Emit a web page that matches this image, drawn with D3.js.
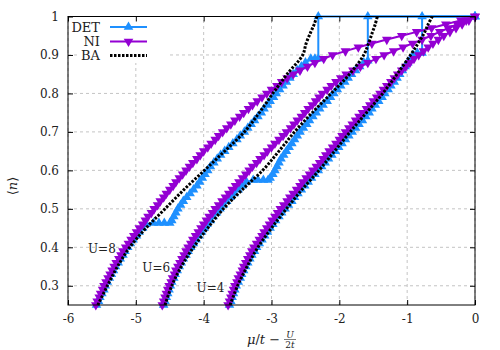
<!DOCTYPE html>
<html>
<head>
<meta charset="utf-8">
<script src="https://cdn.jsdelivr.net/npm/d3@7"></script>
<style>
  body { margin: 0; background: #fff; }
  svg { display: block; font-family: 'DejaVu Serif', serif; }
</style>
</head>
<body>
<div id="chart"></div>
<script>
// ---- data ----
const xTicks = [-6, -5, -4, -3, -2, -1, 0]
const yTicks = [0.3, 0.4, 0.5, 0.6, 0.7, 0.8, 0.9, 1]

// fillings on which NI is sampled
const nLevels = [0.25, 0.26, 0.27, 0.28, 0.29, 0.30, 0.31, 0.32, 0.33, 0.34,
  0.35, 0.36, 0.37, 0.38, 0.39, 0.40, 0.41, 0.42, 0.43, 0.44,
  0.45, 0.46, 0.47, 0.48, 0.49, 0.50, 0.51, 0.52, 0.53, 0.54,
  0.55, 0.56, 0.57, 0.58, 0.59, 0.60, 0.61, 0.62, 0.63, 0.64,
  0.65, 0.66, 0.67, 0.68, 0.69, 0.70, 0.71, 0.72, 0.73, 0.74,
  0.75, 0.76, 0.77, 0.78, 0.79, 0.80, 0.81, 0.82, 0.83, 0.84,
  0.85, 0.86, 0.87, 0.88, 0.89, 0.90, 0.91, 0.92, 0.93, 0.94,
  0.95, 0.96, 0.97, 0.98, 0.99, 1.00]

// NI: mu/t - U/2t at each filling
const niU8 = [-5.59, -5.57, -5.54, -5.52, -5.49, -5.47, -5.44, -5.41, -5.38, -5.35,
  -5.32, -5.29, -5.25, -5.22, -5.19, -5.15, -5.11, -5.07, -5.03, -4.99,
  -4.95, -4.90, -4.86, -4.82, -4.77, -4.73, -4.68, -4.64, -4.59, -4.55,
  -4.50, -4.45, -4.41, -4.36, -4.31, -4.26, -4.21, -4.16, -4.10, -4.05,
  -4.00, -3.94, -3.89, -3.83, -3.78, -3.72, -3.66, -3.60, -3.54, -3.47,
  -3.41, -3.34, -3.28, -3.21, -3.14, -3.07, -3.00, -2.92, -2.85, -2.77,
  -2.68, -2.58, -2.47, -2.36, -2.23, -2.10, -1.91, -1.72, -1.52, -1.30,
  -1.08, -0.86, -0.64, -0.43, -0.21, 0.00]
const niU6 = [-4.61, -4.59, -4.57, -4.55, -4.53, -4.51, -4.48, -4.46, -4.43, -4.41,
  -4.38, -4.35, -4.32, -4.29, -4.26, -4.23, -4.19, -4.16, -4.12, -4.08,
  -4.04, -4.00, -3.96, -3.92, -3.87, -3.83, -3.78, -3.73, -3.68, -3.63,
  -3.58, -3.53, -3.48, -3.43, -3.38, -3.33, -3.28, -3.22, -3.17, -3.11,
  -3.06, -3.00, -2.95, -2.89, -2.83, -2.78, -2.72, -2.67, -2.62, -2.56,
  -2.51, -2.46, -2.40, -2.35, -2.30, -2.25, -2.18, -2.12, -2.05, -1.98,
  -1.90, -1.80, -1.69, -1.58, -1.46, -1.34, -1.20, -1.06, -0.92, -0.78,
  -0.65, -0.52, -0.39, -0.26, -0.13, 0.00]
const niU4 = [-3.64, -3.62, -3.60, -3.58, -3.56, -3.54, -3.51, -3.49, -3.46, -3.43,
  -3.41, -3.38, -3.35, -3.32, -3.29, -3.26, -3.22, -3.18, -3.14, -3.11,
  -3.07, -3.03, -2.99, -2.95, -2.91, -2.87, -2.82, -2.77, -2.73, -2.68,
  -2.63, -2.58, -2.54, -2.49, -2.44, -2.39, -2.34, -2.29, -2.24, -2.20,
  -2.15, -2.10, -2.05, -2.00, -1.96, -1.91, -1.86, -1.81, -1.76, -1.71,
  -1.66, -1.60, -1.55, -1.50, -1.45, -1.40, -1.35, -1.30, -1.24, -1.19,
  -1.14, -1.08, -1.02, -0.96, -0.90, -0.83, -0.76, -0.69, -0.62, -0.54,
  -0.46, -0.37, -0.28, -0.19, -0.09, 0.00]

// DET: irregular points (plateaus and jumps)
const detU8N = [0.25, 0.26, 0.27, 0.28, 0.29, 0.30, 0.31, 0.32, 0.33, 0.34,
  0.35, 0.36, 0.37, 0.38, 0.39, 0.40, 0.41, 0.42, 0.43, 0.44, 0.45, 0.46,
  0.463, 0.463, 0.463, 0.463,
  0.47, 0.48, 0.49, 0.50, 0.51, 0.52, 0.53, 0.54, 0.55, 0.56,
  0.57, 0.58, 0.59, 0.60, 0.61, 0.62, 0.63, 0.64, 0.65, 0.66,
  0.67, 0.68, 0.69, 0.70, 0.71, 0.72, 0.73, 0.74, 0.75, 0.76,
  0.77, 0.78, 0.79, 0.80, 0.81, 0.82, 0.83, 0.84, 0.85, 0.86,
  0.87, 0.88, 0.89, 0.89, 0.89, 1.00, 1.00]
const detU8X = [-5.58, -5.55, -5.53, -5.50, -5.47, -5.45, -5.42, -5.39, -5.36, -5.33,
  -5.30, -5.26, -5.23, -5.19, -5.16, -5.12, -5.08, -5.04, -4.99, -4.95, -4.90, -4.85,
  -4.74, -4.66, -4.58, -4.50,
  -4.47, -4.44, -4.41, -4.38, -4.34, -4.30, -4.25, -4.20, -4.15, -4.10,
  -4.06, -4.02, -3.98, -3.94, -3.90, -3.85, -3.80, -3.75, -3.69, -3.63,
  -3.57, -3.51, -3.46, -3.40, -3.35, -3.30, -3.25, -3.20, -3.15, -3.11,
  -3.06, -3.02, -2.97, -2.93, -2.88, -2.83, -2.78, -2.73, -2.68, -2.62,
  -2.56, -2.50, -2.42, -2.36, -2.31, -2.31, 0.00]
const detU6N = [0.25, 0.26, 0.27, 0.28, 0.29, 0.30, 0.31, 0.32, 0.33, 0.34,
  0.35, 0.36, 0.37, 0.38, 0.39, 0.40, 0.41, 0.42, 0.43, 0.44,
  0.45, 0.46, 0.47, 0.48, 0.49, 0.50, 0.51, 0.52, 0.53, 0.54,
  0.55, 0.56, 0.57,
  0.575, 0.575, 0.575, 0.575,
  0.58, 0.59, 0.60, 0.61, 0.62, 0.63, 0.64, 0.65, 0.66, 0.67,
  0.68, 0.69, 0.70, 0.71, 0.72, 0.73, 0.74, 0.75, 0.76, 0.77,
  0.78, 0.79, 0.80, 0.81, 0.82, 0.83, 0.84, 0.85, 0.86, 0.87,
  0.88, 0.885, 1.00, 1.00]
const detU6X = [-4.59, -4.57, -4.55, -4.53, -4.51, -4.49, -4.47, -4.44, -4.42, -4.39,
  -4.36, -4.33, -4.30, -4.26, -4.23, -4.19, -4.15, -4.11, -4.07, -4.03,
  -3.99, -3.95, -3.90, -3.86, -3.81, -3.76, -3.71, -3.66, -3.61, -3.55,
  -3.49, -3.43, -3.37,
  -3.27, -3.20, -3.12, -3.05,
  -3.02, -2.98, -2.95, -2.92, -2.89, -2.86, -2.82, -2.78, -2.74, -2.70,
  -2.66, -2.62, -2.58, -2.53, -2.48, -2.44, -2.39, -2.34, -2.29, -2.24,
  -2.18, -2.13, -2.08, -2.03, -1.98, -1.92, -1.87, -1.82, -1.76, -1.70,
  -1.64, -1.58, -1.58, 0.00]
const detU4N = [0.25, 0.26, 0.27, 0.28, 0.29, 0.30, 0.31, 0.32, 0.33, 0.34,
  0.35, 0.36, 0.37, 0.38, 0.39, 0.40, 0.41, 0.42, 0.43, 0.44,
  0.45, 0.46, 0.47, 0.48, 0.49, 0.50, 0.51, 0.52, 0.53, 0.54,
  0.55, 0.56, 0.57, 0.58, 0.59, 0.60, 0.61, 0.62, 0.63, 0.64,
  0.65, 0.66, 0.67, 0.68, 0.69, 0.70, 0.71, 0.72, 0.73, 0.74,
  0.75, 0.76, 0.77, 0.78, 0.79, 0.80, 0.81, 0.82, 0.83, 0.84,
  0.85, 0.86, 0.87, 0.88, 0.89, 0.90,
  0.905, 0.905, 1.00, 1.00]
const detU4X = [-3.62, -3.60, -3.58, -3.56, -3.54, -3.52, -3.49, -3.46, -3.44, -3.41,
  -3.38, -3.35, -3.32, -3.29, -3.25, -3.22, -3.18, -3.14, -3.10, -3.06,
  -3.02, -2.98, -2.94, -2.89, -2.85, -2.80, -2.75, -2.70, -2.66, -2.61,
  -2.56, -2.51, -2.46, -2.41, -2.36, -2.31, -2.26, -2.21, -2.16, -2.11,
  -2.06, -2.01, -1.96, -1.91, -1.86, -1.81, -1.76, -1.71, -1.66, -1.61,
  -1.56, -1.52, -1.47, -1.42, -1.37, -1.33, -1.28, -1.24, -1.19, -1.15,
  -1.11, -1.07, -1.03, -0.99, -0.95, -0.91,
  -0.85, -0.78, -0.78, 0.00]

// BA: smooth curves
const baN = [0.25, 0.30, 0.35, 0.40, 0.45, 0.50, 0.55, 0.60, 0.65, 0.70,
  0.75, 0.80, 0.85, 0.90, 0.93, 0.96, 0.98, 1.00]
const baU8 = [-5.56, -5.42, -5.27, -5.09, -4.85, -4.57, -4.29, -3.99, -3.69, -3.40,
  -3.18, -2.98, -2.77, -2.54, -2.49, -2.42, -2.37, -2.33]
const baU6 = [-4.57, -4.47, -4.33, -4.15, -3.94, -3.71, -3.43, -3.13, -2.89, -2.66,
  -2.40, -2.12, -1.85, -1.64, -1.57, -1.51, -1.47, -1.44]
const baU4 = [-3.61, -3.50, -3.36, -3.20, -3.00, -2.78, -2.55, -2.30, -2.07, -1.84,
  -1.60, -1.36, -1.15, -0.95, -0.84, -0.74, -0.69, -0.63]

const uLabels = [{ text: 'U=8', x: -5.5, n: 0.385 }, { text: 'U=6', x: -4.7, n: 0.335 }, { text: 'U=4', x: -3.9, n: 0.283 }]

// ---- drawing ----
const blue = '#1e90ff'
const purple = '#9400d3'
const textColor = '#222'

const x = d3.scaleLinear().domain([-6, 0]).range([68, 475])
const y = d3.scaleLinear().domain([0.25, 1]).range([305, 16.5])

const svg = d3.select('#chart').append('svg')
  .attr('width', 500)
  .attr('height', 350)

// grid
let grid = svg.append('g')
  .attr('stroke', '#c4c4c4')
  .attr('stroke-width', 1)
  .attr('stroke-dasharray', '3,3')
grid.selectAll('line.gx').data(xTicks).join('line')
  .attr('class', 'gx')
  .attr('x1', d => x(d)).attr('x2', d => x(d))
  .attr('y1', y(0.25)).attr('y2', y(1))
grid.selectAll('line.gy').data(yTicks).join('line')
  .attr('class', 'gy')
  .attr('x1', x(-6)).attr('x2', x(0))
  .attr('y1', d => y(d)).attr('y2', d => y(d))

// legend background (opaque key)
svg.append('rect')
  .attr('x', 78).attr('y', 19).attr('width', 92).attr('height', 44)
  .attr('fill', '#fff')

const zip = (xs, ns) => xs.map((v, i) => [v, ns[i]])
const line = d3.line().x(d => x(d[0])).y(d => y(d[1]))
const tri = d3.symbol(d3.symbolTriangle, 40)

function drawSeries (pts, color, down) {
  let g = svg.append('g')
  g.append('path')
    .attr('d', line(pts))
    .attr('fill', 'none')
    .attr('stroke', color)
    .attr('stroke-width', 2)
  g.selectAll('path.m').data(pts).join('path')
    .attr('class', 'm')
    .attr('d', tri)
    .attr('fill', color)
    .attr('transform', d => `translate(${x(d[0])},${y(d[1])})` + (down ? ' rotate(180)' : ''))
}

drawSeries(zip(detU4X, detU4N), blue, false)
drawSeries(zip(detU6X, detU6N), blue, false)
drawSeries(zip(detU8X, detU8N), blue, false)

drawSeries(zip(niU4, nLevels), purple, true)
drawSeries(zip(niU6, nLevels), purple, true)
drawSeries(zip(niU8, nLevels), purple, true)

const baLine = d3.line().x(d => x(d[0])).y(d => y(d[1])).curve(d3.curveCatmullRom)
for (let s of [baU4, baU6, baU8]) {
  svg.append('path')
    .attr('d', baLine(zip(s, baN)))
    .attr('fill', 'none')
    .attr('stroke', '#000')
    .attr('stroke-width', 3)
    .attr('stroke-dasharray', '2.5,1.5')
}

// frame + inward ticks on all sides
svg.append('rect')
  .attr('x', x(-6)).attr('y', y(1))
  .attr('width', x(0) - x(-6)).attr('height', y(0.25) - y(1))
  .attr('fill', 'none').attr('stroke', '#000').attr('stroke-width', 1)

function styleAxis (g) {
  g.select('.domain').remove()
  g.attr('font-family', "'DejaVu Serif', serif").attr('font-size', 12)
  g.selectAll('text').attr('fill', textColor)
}

svg.append('g').attr('transform', `translate(0,${y(0.25)})`)
  .call(d3.axisBottom(x).tickValues(xTicks).tickFormat(d => String(d)).tickSizeInner(-5).tickSizeOuter(0).tickPadding(9.5))
  .call(styleAxis)
svg.append('g').attr('transform', `translate(0,${y(1)})`)
  .call(d3.axisTop(x).tickValues(xTicks).tickFormat('').tickSizeInner(-5).tickSizeOuter(0))
  .call(styleAxis)
svg.append('g').attr('transform', `translate(${x(-6)},0)`)
  .call(d3.axisLeft(y).tickValues(yTicks).tickFormat(d => String(d)).tickSizeInner(-5).tickSizeOuter(0).tickPadding(9))
  .call(styleAxis)
svg.append('g').attr('transform', `translate(${x(0)},0)`)
  .call(d3.axisRight(y).tickValues(yTicks).tickFormat('').tickSizeInner(-5).tickSizeOuter(0))
  .call(styleAxis)

// axis titles
let xl = svg.append('text')
  .attr('x', 247).attr('y', 344)
  .attr('font-size', 13).attr('fill', textColor)
xl.append('tspan').attr('font-style', 'italic').text('μ')
xl.append('tspan').text('/')
xl.append('tspan').attr('font-style', 'italic').text('t')
xl.append('tspan').text(' − ')
svg.append('text').attr('x', 290).attr('y', 337.5)
  .attr('text-anchor', 'middle').attr('font-size', 9).attr('font-style', 'italic')
  .attr('fill', textColor).text('U')
svg.append('line').attr('x1', 284).attr('x2', 296).attr('y1', 339.5).attr('y2', 339.5)
  .attr('stroke', textColor).attr('stroke-width', 0.6)
let den = svg.append('text').attr('x', 290).attr('y', 347.5)
  .attr('text-anchor', 'middle').attr('font-size', 9).attr('fill', textColor)
den.append('tspan').text('2')
den.append('tspan').attr('font-style', 'italic').text('t')

let yl = svg.append('text')
  .attr('transform', 'translate(17,186) rotate(-90)')
  .attr('text-anchor', 'middle').attr('font-size', 13).attr('fill', textColor)
yl.append('tspan').text('⟨')
yl.append('tspan').attr('font-style', 'italic').text('n')
yl.append('tspan').text('⟩')

// U labels
svg.selectAll('text.ulab').data(uLabels).join('text')
  .attr('class', 'ulab')
  .attr('x', d => x(d.x)).attr('y', d => y(d.n))
  .attr('text-anchor', 'middle').attr('font-size', 12).attr('fill', textColor)
  .text(d => d.text)

// legend
const legendItems = [
  { label: 'DET', color: blue, dash: null, marker: 'up' },
  { label: 'NI', color: purple, dash: null, marker: 'down' },
  { label: 'BA', color: '#000', dash: '2.5,1.5', marker: null }
]
const legendY = [27, 41.5, 55.5]
let lg = svg.append('g')
legendItems.forEach((d, i) => {
  let ly = legendY[i]
  lg.append('text').attr('x', 100).attr('y', ly + 4.5)
    .attr('text-anchor', 'end').attr('font-size', 13).attr('fill', textColor)
    .text(d.label)
  lg.append('line').attr('x1', 110).attr('x2', 147).attr('y1', ly).attr('y2', ly)
    .attr('stroke', d.color).attr('stroke-width', d.dash ? 3 : 2)
    .attr('stroke-dasharray', d.dash)
  if (d.marker) {
    lg.append('path').attr('d', tri).attr('fill', d.color)
      .attr('transform', `translate(128.5,${ly})` + (d.marker === 'down' ? ' rotate(180)' : ''))
  }
})
</script>
</body>
</html>
